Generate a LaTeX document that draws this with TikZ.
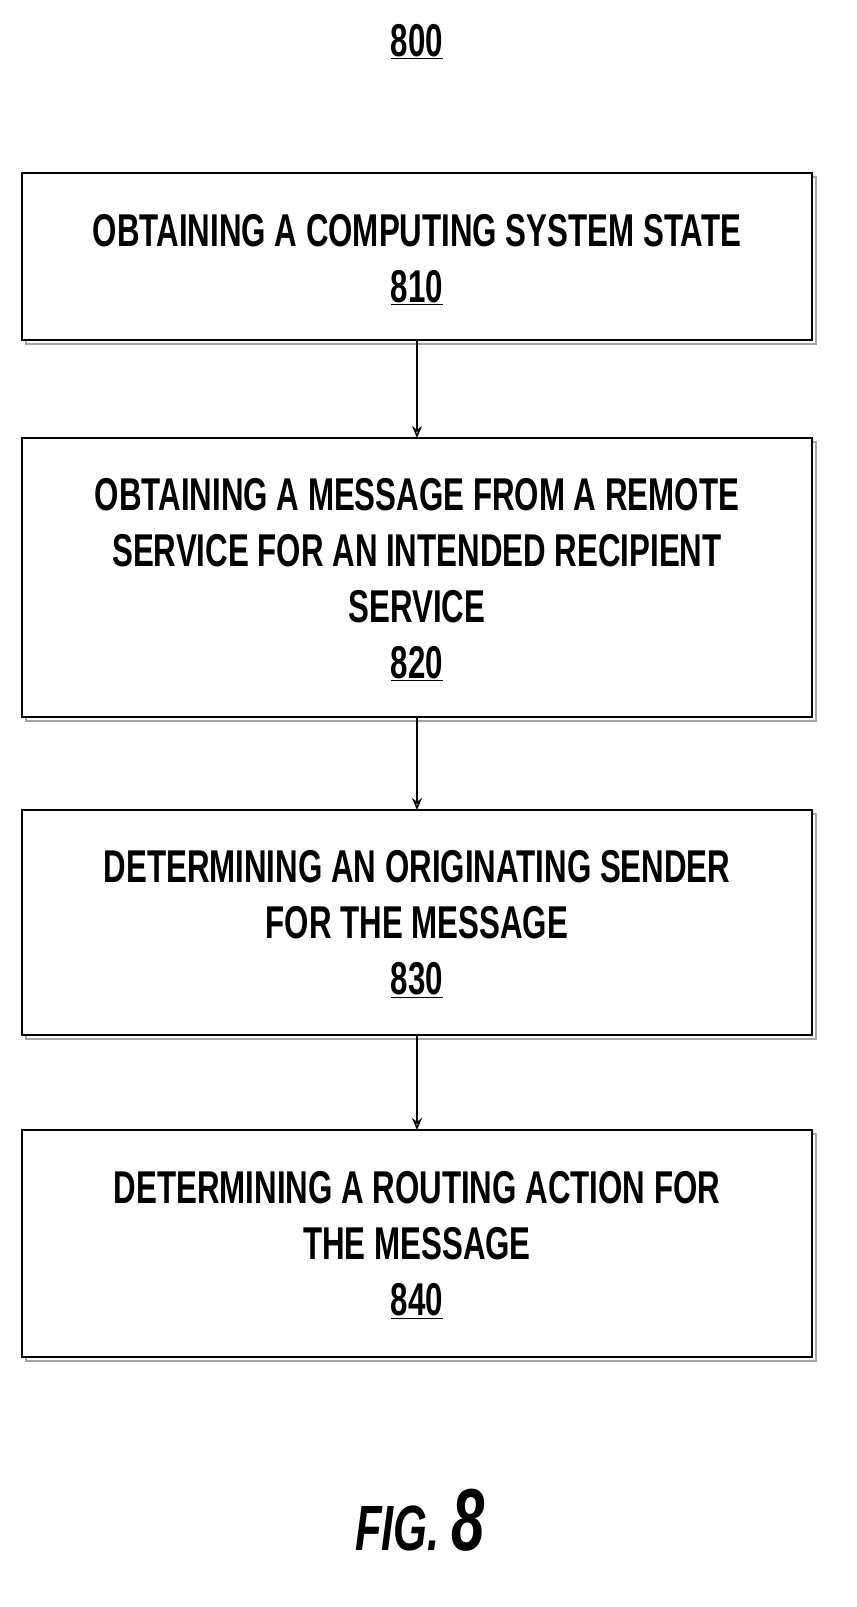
\documentclass[tikz,border=0pt]{standalone}
\usepackage{fontspec}
\newfontfamily\pf[FakeStretch=0.68,UprightFont={* Bold},ItalicFont={* Bold Italic}]{Liberation Sans}
\usetikzlibrary{arrows.meta}
\begin{document}
\begin{tikzpicture}[x=1pt,y=-1pt,
  lbl/.style={font=\pf\fontsize{46}{56}\selectfont,align=center},
  conn/.style={line width=1.6pt,-{Stealth[open,length=12pt,width=10pt]}}]
\useasboundingbox (0,0) rectangle (857,1607);
\node[lbl] (t) at (417,42) {\underline{800}};
\foreach \n/\a/\b in {a/173/340,b/438/717,c/810/1035,d/1130/1357}{
  \draw[line width=2.2pt,gray!70] (26,\a+4) rectangle (816,\b+4);
  \draw[line width=2.2pt,fill=white] (22,\a) rectangle (812,\b);
  \coordinate (\n t) at (417,\a);
  \coordinate (\n b) at (417,\b);
}
\node[lbl] (la) at (417,260) {OBTAINING A COMPUTING SYSTEM STATE\\\underline{810}};
\node[lbl] (lb) at (417,580) {OBTAINING A MESSAGE FROM A REMOTE\\SERVICE FOR AN INTENDED RECIPIENT\\SERVICE\\\underline{820}};
\node[lbl] (lc) at (417,924) {DETERMINING AN ORIGINATING SENDER\\FOR THE MESSAGE\\\underline{830}};
\node[lbl] (ld) at (417,1245) {DETERMINING A ROUTING ACTION FOR\\THE MESSAGE\\\underline{840}};
\draw[conn] (ab) -- (bt);
\draw[conn] (bb) -- (ct);
\draw[conn] (cb) -- (dt);
\node[font=\pf\itshape\fontsize{64}{70}\selectfont] (fig) at (420,1520) {FIG. {\fontsize{88}{90}\selectfont 8}};
\end{tikzpicture}
\end{document}
